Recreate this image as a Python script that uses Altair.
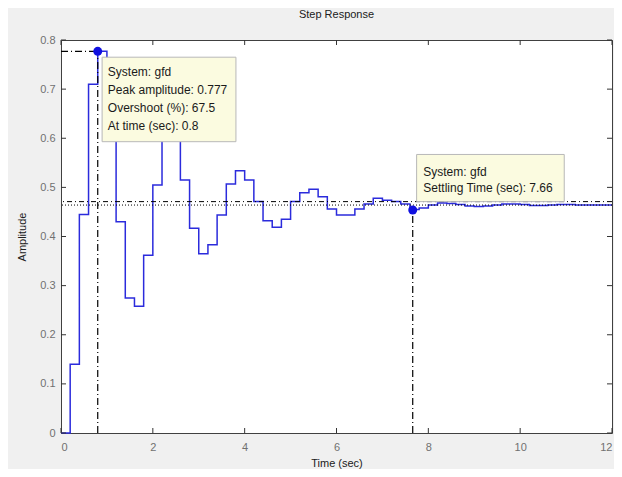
import altair as alt
import pandas as pd

# ---- data ----
times = [round(0.2 * i, 1) for i in range(61)]
amplitude = [
    0.000, 0.140, 0.445, 0.710, 0.777, 0.680, 0.430, 0.275, 0.258, 0.362,
    0.505, 0.620, 0.600, 0.515, 0.417, 0.365, 0.383, 0.444, 0.507, 0.534,
    0.515, 0.471, 0.432, 0.419, 0.435, 0.471, 0.489, 0.496, 0.481, 0.456,
    0.444, 0.444, 0.456, 0.466, 0.478, 0.474, 0.471, 0.466, 0.455, 0.458,
    0.464, 0.468, 0.467, 0.465, 0.462, 0.461, 0.462, 0.464, 0.466, 0.466,
    0.465, 0.463, 0.463, 0.464, 0.465, 0.465, 0.464, 0.464, 0.464, 0.464,
    0.464,
]
x_ticks = [0, 2, 4, 6, 8, 10, 12]
y_ticks = [0, 0.1, 0.2, 0.3, 0.4, 0.5, 0.6, 0.7, 0.8]

peak_time, peak_amp = 0.8, 0.777
settle_time, settle_amp = 7.66, 0.454
final_value = 0.464
band_value = 0.471

box1_lines = ["System: gfd", "Peak amplitude: 0.777", "Overshoot (%): 67.5", "At time (sec): 0.8"]
box2_lines = ["System: gfd", "Settling Time (sec): 7.66"]

W, H = 551, 393
FONT = "Liberation Sans"
BLUE = "#2b2bdc"

df = pd.DataFrame({"t": times, "a": amplitude})

xs = alt.Scale(domain=[0, 12], nice=False, zero=False)
ys = alt.Scale(domain=[0, 0.8], nice=False, zero=False)

X = alt.X("t:Q", scale=xs,
          axis=alt.Axis(values=x_ticks, title="Time (sec)", ticks=False, domain=False, grid=False,
                        labelPadding=8, titlePadding=5, labelColor="#707070", titleColor="#202020",
                        labelFont=FONT, titleFont=FONT, labelFontSize=11, titleFontSize=11,
                        titleFontWeight="normal", format="~g"))
Y = alt.Y("a:Q", scale=ys,
          axis=alt.Axis(values=y_ticks, title="Amplitude", ticks=False, domain=False, grid=False,
                        labelPadding=6, titlePadding=12, labelColor="#707070", titleColor="#202020",
                        labelFont=FONT, titleFont=FONT, labelFontSize=11, titleFontSize=11,
                        titleFontWeight="normal", format="~g"))

base = alt.Chart(df)

line = base.mark_line(interpolate="step-after", color=BLUE, strokeWidth=1.5).encode(x=X, y=Y)

ref = pd.DataFrame({"v": [band_value, final_value], "k": ["band", "final"]})
band_rule = alt.Chart(ref[ref.k == "band"]).mark_rule(color="#000", strokeWidth=1, strokeDash=[5, 3, 1, 3]).encode(
    y=alt.Y("v:Q", scale=ys))
final_rule = alt.Chart(ref[ref.k == "final"]).mark_rule(color="#000", strokeWidth=1, strokeDash=[1, 2]).encode(
    y=alt.Y("v:Q", scale=ys))

marks = pd.DataFrame({
    "x1": [0, peak_time, settle_time],
    "x2": [peak_time, peak_time, settle_time],
    "y1": [peak_amp, 0, 0],
    "y2": [peak_amp, peak_amp, settle_amp],
})
guides = alt.Chart(marks).mark_rule(color="#000", strokeWidth=1.2, strokeDash=[7, 3, 1, 3]).encode(
    x=alt.X("x1:Q", scale=xs), x2="x2:Q", y=alt.Y("y1:Q", scale=ys), y2="y2:Q")

pts = pd.DataFrame({"t": [peak_time, settle_time], "a": [peak_amp, settle_amp]})
points = alt.Chart(pts).mark_point(filled=True, color="#1010e0", size=80, opacity=1).encode(
    x=alt.X("t:Q", scale=xs), y=alt.Y("a:Q", scale=ys))

boxes_df = pd.DataFrame({
    "x1": [0.895, 7.745], "x2": [3.81, 10.96],
    "y1": [0.765, 0.567], "y2": [0.593, 0.471],
})
boxes = alt.Chart(boxes_df).mark_rect(fill="#fbfbe0", stroke="#b8b8b8", strokeWidth=1).encode(
    x=alt.X("x1:Q", scale=xs), x2="x2:Q", y=alt.Y("y1:Q", scale=ys), y2="y2:Q")

txt_df = pd.DataFrame({
    "t": [1.02] * 4 + [7.89] * 2,
    "a": [0.735, 0.699, 0.662, 0.624, 0.532, 0.498],
    "s": box1_lines + box2_lines,
})
texts = alt.Chart(txt_df).mark_text(align="left", baseline="middle", font=FONT, fontSize=12,
                                     color="#1a1a1a").encode(
    x=alt.X("t:Q", scale=xs), y=alt.Y("a:Q", scale=ys), text="s:N")

# inner tick marks on all four sides
xt = pd.DataFrame({"t": x_ticks})
yt = pd.DataFrame({"a": y_ticks})
tick_bottom = alt.Chart(xt).mark_rule(color="#333", strokeWidth=1).encode(
    x=alt.X("t:Q", scale=xs), y=alt.value(H), y2=alt.value(H - 5))
tick_top = alt.Chart(xt).mark_rule(color="#333", strokeWidth=1).encode(
    x=alt.X("t:Q", scale=xs), y=alt.value(0), y2=alt.value(5))
tick_left = alt.Chart(yt).mark_rule(color="#333", strokeWidth=1).encode(
    y=alt.Y("a:Q", scale=ys), x=alt.value(0), x2=alt.value(5))
tick_right = alt.Chart(yt).mark_rule(color="#333", strokeWidth=1).encode(
    y=alt.Y("a:Q", scale=ys), x=alt.value(W), x2=alt.value(W - 5))

chart = alt.layer(
    line, band_rule, final_rule, guides, points, boxes, texts,
    tick_bottom, tick_top, tick_left, tick_right,
).properties(
    width=W, height=H,
    title=alt.TitleParams("Step Response", font=FONT, fontSize=11, fontWeight="normal",
                          color="#202020", anchor="middle", offset=14),
    autosize=alt.AutoSizeParams(type="none"),
    padding={"left": 53, "top": 32, "right": 2, "bottom": 36},
    background="#f0f0f0",
).configure_view(
    stroke="#404040", strokeWidth=1, fill="white"
)

chart.save("out.html", embed_options={"renderer": "svg", "actions": False})
